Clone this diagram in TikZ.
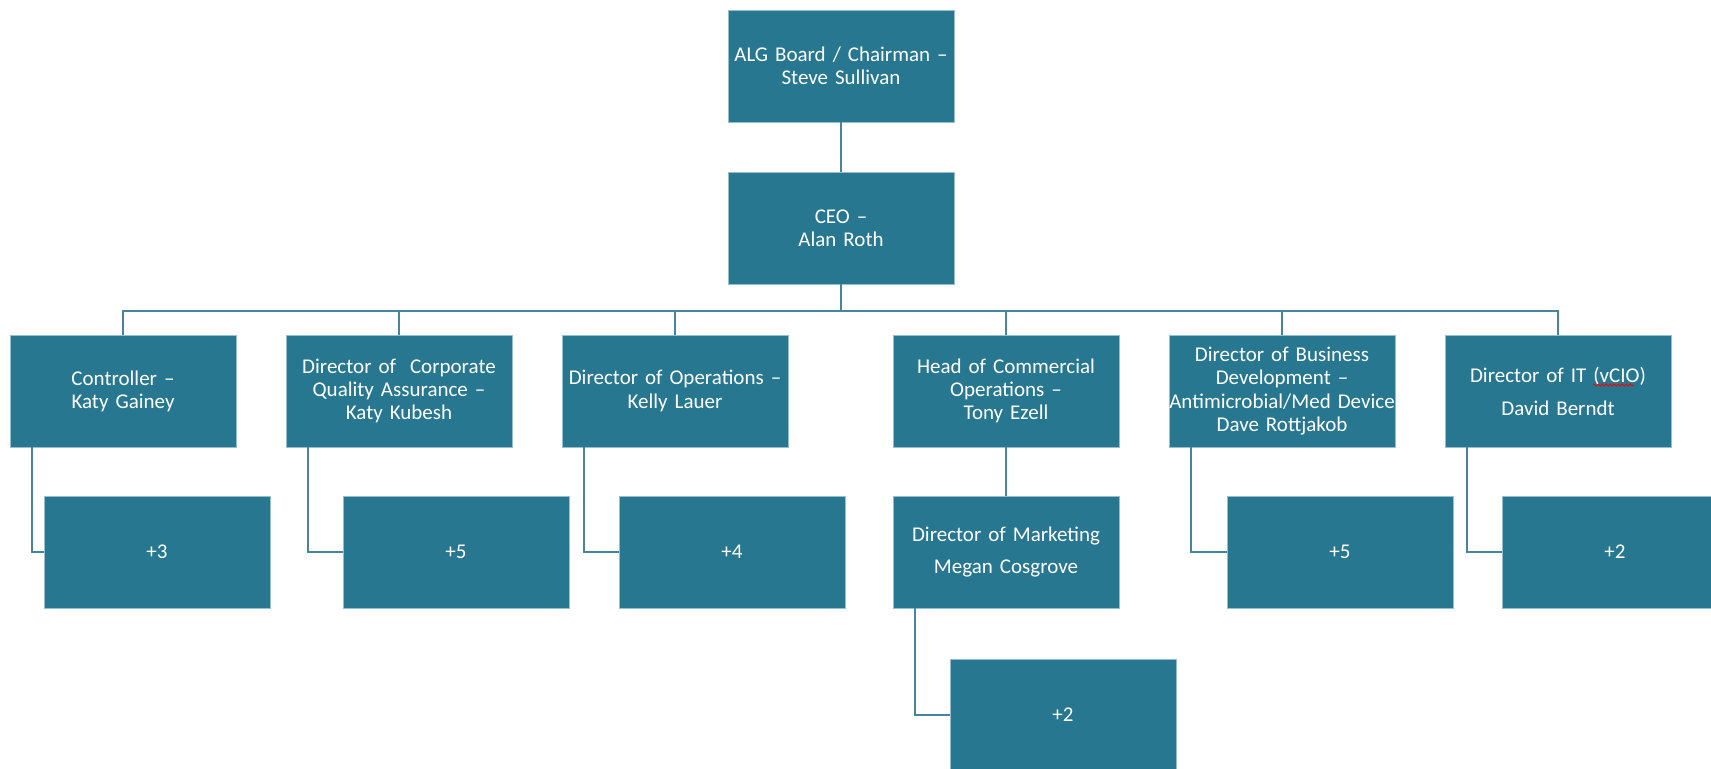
\documentclass[tikz,border=0pt]{standalone}
\usepackage{fontspec}
\setmainfont{Carlito}
\usetikzlibrary{decorations.pathmorphing}
\definecolor{boxblue}{RGB}{39,119,145}
\definecolor{boxedge}{RGB}{150,190,205}
\definecolor{linecol}{RGB}{72,132,158}
\tikzset{
  orgbox/.style={rectangle, fill=boxblue, draw=boxedge, line width=0.4pt,
    minimum width=113pt, minimum height=56pt, inner sep=0pt, text width=112pt,
    align=center, text=white, font=\fontsize{10.5}{11.6}\selectfont},
  link/.style={draw=linecol, line width=1pt}
}
\begin{document}
\begin{tikzpicture}[x=0.5pt,y=-0.5pt]
\useasboundingbox (0,0) rectangle (1711,768);
\fill[white] (0,0) rectangle (1711,768);
\clip (0,0) rectangle (1711,768);

\node[orgbox] (top) at (841,66) {ALG Board / Chairman --\\Steve Sullivan};
\node[orgbox] (ceo) at (841,228) {CEO --\\Alan Roth};

\node[orgbox] (c1) at (123,391) {Controller --\\Katy Gainey};
\node[orgbox] (c2) at (399,391) {Director of\ \ Corporate\\Quality Assurance --\\Katy Kubesh};
\node[orgbox] (c3) at (675,391) {Director of Operations --\\Kelly Lauer};
\node[orgbox] (c4) at (1006,391) {Head of Commercial\\Operations --\\Tony Ezell};
\node[orgbox] (c5) at (1282,391) {Director of Business\\Development --\\\makebox[112pt][c]{Antimicrobial/Med Device}\\Dave Rottjakob};
\node[orgbox] (c6) at (1558,391) {Director of IT (vCIO)\\[5pt]David Berndt};

\node[orgbox] (r1) at (157,552) {+3};
\node[orgbox] (r2) at (456,552) {+5};
\node[orgbox] (r3) at (732,552) {+4};
\node[orgbox] (m)  at (1006,552) {Director of Marketing\\[4.5pt]Megan Cosgrove};
\node[orgbox] (r5) at (1340,552) {+5};
\node[orgbox] (r6) at (1615,552) {+2};
\node[orgbox] (m2) at (1063,715) {+2};

\coordinate (bus) at (841,311);

\draw[link] (top) -- (ceo);
\draw[link] (ceo.south) -- (bus);
\draw[link] (c1.north) -- (c1.north |- bus) -- (c6.north |- bus) -- (c6.north);
\foreach \n in {c2,c3,c4,c5}{
  \draw[link] (\n.north) -- (\n.north |- bus);
}
\draw[link] (c4) -- (m);

\draw[link] ([xshift=11pt]c1.south west) |- (r1.west);
\draw[link] ([xshift=11pt]c2.south west) |- (r2.west);
\draw[link] ([xshift=11pt]c3.south west) |- (r3.west);
\draw[link] ([xshift=11pt]c5.south west) |- (r5.west);
\draw[link] ([xshift=11pt]c6.south west) |- (r6.west);
\draw[link] ([xshift=11pt]m.south west) |- (m2.west);

\draw[red, line width=0.4pt, decorate, decoration={snake, amplitude=0.5pt, segment length=2pt}] (1593,385) -- (1634,385);
\end{tikzpicture}
\end{document}
